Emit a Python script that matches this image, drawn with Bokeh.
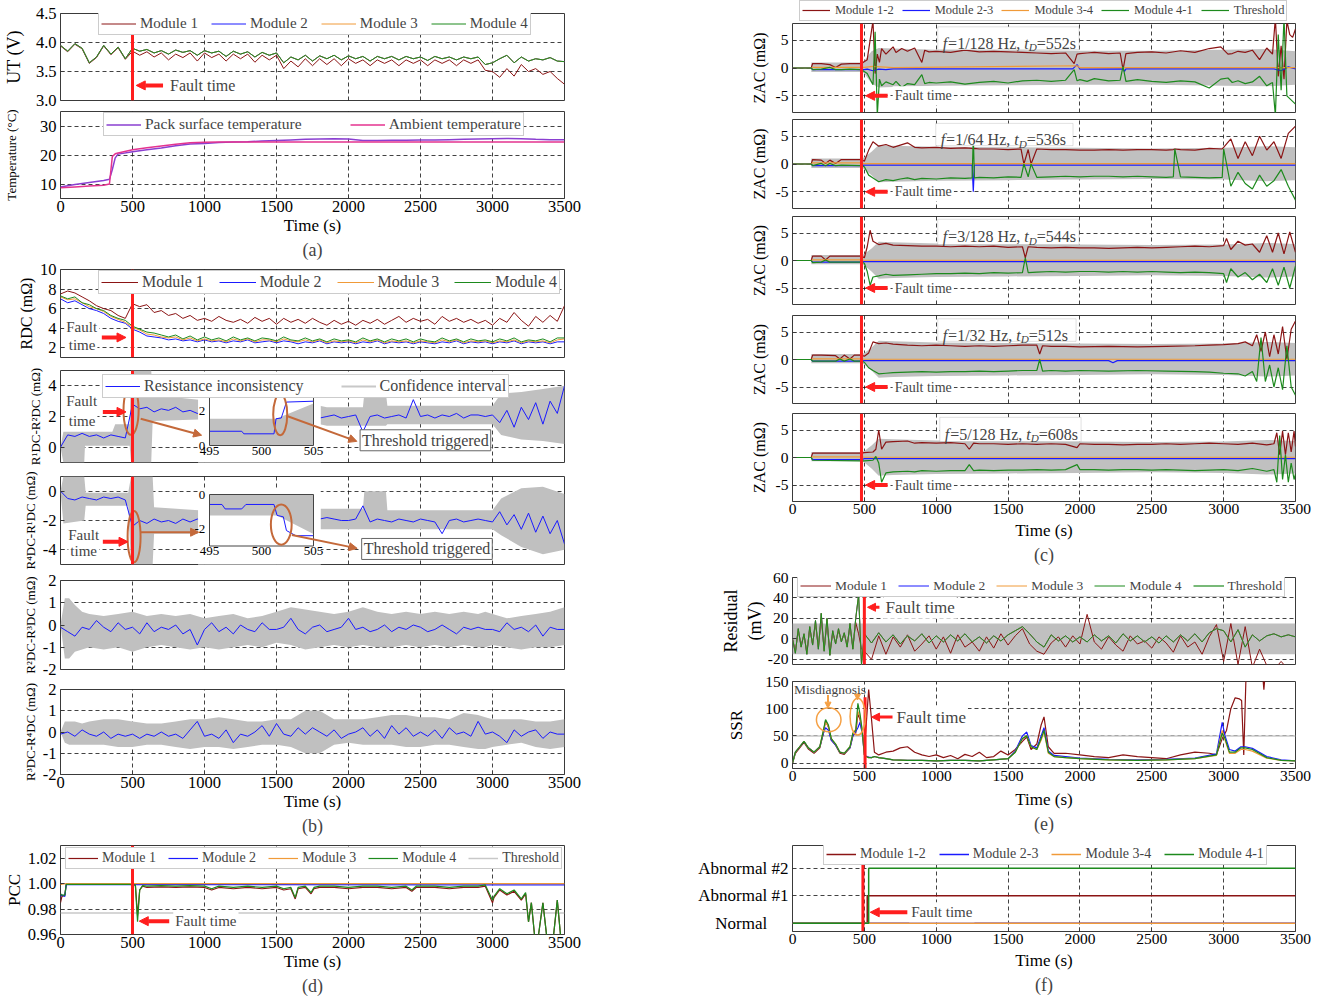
import math
import numpy as np
from bokeh.plotting import figure
from bokeh.layouts import column, row
from bokeh.models import (Range1d, FixedTicker, Legend, LegendItem, Span, Label, Arrow,
                          NormalHead, BoxAnnotation, Title, PrintfTickFormatter, LinearAxis)
from bokeh.embed import file_html
from bokeh.resources import INLINE
from bokeh.core.properties import value

FONT = "Liberation Serif"
C1, C2, C3, C4 = "#8b1414", "#1a1aff", "#f09a38", "#1d8a1d"
FAULT = "#ff1e1e"
GREY = "#c0c0c0"
BROWN = "#c4693a"
ORANGE = "#f5a044"
PURPLE = "#8a3fd1"
PINK = "#e4338f"

FAULT_T = 500
XTICKS = [0, 500, 1000, 1500, 2000, 2500, 3000, 3500]
XGRID = [500, 1000, 1500, 2000, 2500, 3000]
T50 = list(range(0, 3501, 50))
NO_DATA = np.array([np.nan])   # legend-key only renderers

# ---------------- (a) terminal voltage ----------------
ut_m1 = [3.94, 3.84, 3.97, 3.89, 3.64, 3.74, 3.94, 3.79, 3.91, 3.71,
         3.85, 3.78, 3.84, 3.75, 3.82, 3.70, 3.80, 3.74, 3.82, 3.68,
         3.82, 3.74, 3.80, 3.68, 3.80, 3.72, 3.80, 3.66, 3.78, 3.70,
         3.78, 3.55, 3.68, 3.58, 3.72, 3.60, 3.72, 3.62, 3.72, 3.60,
         3.72, 3.64, 3.70, 3.60, 3.70, 3.64, 3.70, 3.60, 3.70, 3.64,
         3.70, 3.60, 3.70, 3.64, 3.70, 3.60, 3.70, 3.64, 3.70, 3.52,
         3.50, 3.40, 3.55, 3.42, 3.62, 3.50, 3.55, 3.45, 3.50, 3.38,
         3.28]
ut_m4 = [3.95, 3.85, 3.98, 3.90, 3.65, 3.75, 3.95, 3.80, 3.92, 3.72,
         3.90, 3.85, 3.88, 3.82, 3.86, 3.80, 3.87, 3.83, 3.86, 3.78,
         3.86, 3.82, 3.85, 3.76, 3.85, 3.80, 3.84, 3.75, 3.83, 3.78,
         3.82, 3.65, 3.75, 3.70, 3.78, 3.68, 3.77, 3.72, 3.78, 3.70,
         3.77, 3.72, 3.76, 3.68, 3.76, 3.72, 3.76, 3.70, 3.76, 3.72,
         3.75, 3.69, 3.76, 3.72, 3.75, 3.70, 3.75, 3.72, 3.75, 3.62,
         3.65, 3.72, 3.78, 3.65, 3.75, 3.68, 3.72, 3.70, 3.74, 3.68,
         3.67]
ut_m2 = ut_m4   # modules 2-4 overlap in the picture
ut_m3 = ut_m4

temp_x = [0, 100, 200, 300, 340, 360, 380, 400, 500, 600, 700, 800, 900, 1000,
          1100, 1200, 1300, 1400, 1500, 1600, 1700, 1800, 1900, 2000, 2100, 2200,
          2300, 2400, 2500, 2600, 2700, 2800, 2900, 3000, 3100, 3200, 3300, 3400, 3500]
temp_pack = [9.0, 9.8, 10.5, 11.2, 11.6, 15.0, 19.0, 20.3, 21.1, 21.8, 22.4, 23.2, 23.8, 24.0,
             24.3, 24.5, 24.6, 24.8, 25.0, 25.2, 25.4, 25.5, 25.6, 25.5, 25.0, 25.0,
             25.1, 25.1, 25.2, 25.2, 25.3, 25.4, 25.5, 25.6, 25.7, 25.6, 25.4, 25.3, 25.3]
temp_amb = [8.7, 9.0, 9.3, 9.6, 10.0, 19.5, 20.4, 20.7, 21.8, 22.5, 23.1, 23.7, 24.2, 24.4,
            24.5, 24.5, 24.5, 24.5, 24.5, 24.5, 24.5, 24.5, 24.5, 24.5, 24.5, 24.5,
            24.5, 24.5, 24.5, 24.5, 24.5, 24.5, 24.5, 24.5, 24.5, 24.5, 24.5, 24.5, 24.5]

# ---------------- (b) DC resistance ----------------
rdc_m1 = [7.5, 7.8, 7.6, 7.2, 6.8, 6.3, 6.0, 5.8, 5.3, 5.0,
          6.5, 6.2, 6.4, 5.6, 5.8, 5.3, 5.5, 5.0, 5.3, 4.8,
          5.0, 4.7, 5.2, 4.8, 4.6, 4.9, 4.5, 5.1, 4.7, 5.0,
          4.4, 5.0, 4.6, 4.9, 4.5, 5.0, 4.6, 4.3, 4.8, 4.4,
          4.7, 4.3, 4.8, 4.5, 4.9, 4.4, 4.8, 5.2, 4.6, 5.0,
          4.7, 4.9, 4.4, 5.2, 4.7, 5.0, 4.6, 4.9, 4.5, 4.8,
          4.3, 5.0, 4.6, 5.6, 4.8, 4.2, 5.2, 4.6, 5.3, 4.7,
          6.3]
rdc_m2 = [7.0, 6.6, 6.8, 6.4, 6.0, 5.8, 5.5, 5.0, 4.7, 4.5,
          3.9, 3.6, 3.2, 3.1, 3.0, 2.8, 2.9, 2.7, 2.8, 2.6,
          2.8, 2.6, 2.7, 2.5, 2.7, 2.6, 2.8, 2.5, 2.6, 2.7,
          2.5, 2.7, 2.6, 2.4, 2.6, 2.5, 2.7, 2.4, 2.6, 2.5,
          2.6, 2.4, 2.6, 2.5, 2.7, 2.4, 2.6, 2.5, 2.6, 2.4,
          2.6, 2.5, 2.4, 2.6, 2.5, 2.7, 2.4, 2.6, 2.5, 2.6,
          2.4, 2.6, 2.5, 2.7, 2.4, 2.6, 2.5, 2.6, 2.4, 2.6,
          2.6]
rdc_m3 = [7.2, 6.9, 7.0, 6.6, 6.2, 6.0, 5.7, 5.2, 4.9, 4.6,
          4.1, 3.8, 3.4, 3.3, 3.1, 3.0, 3.1, 2.8, 3.0, 2.7,
          2.9, 2.7, 2.8, 2.6, 2.9, 2.7, 2.9, 2.6, 2.8, 2.8,
          2.6, 2.9, 2.7, 2.6, 2.8, 2.6, 2.8, 2.5, 2.7, 2.6,
          2.7, 2.5, 2.8, 2.6, 2.8, 2.5, 2.7, 2.6, 2.7, 2.5,
          2.7, 2.6, 2.5, 2.8, 2.6, 2.8, 2.5, 2.7, 2.6, 2.7,
          2.5, 2.7, 2.6, 2.8, 2.5, 2.7, 2.6, 2.7, 2.5, 2.8,
          2.9]
rdc_m4 = [7.3, 7.0, 7.2, 6.6, 6.4, 6.0, 5.8, 5.3, 5.0, 4.8,
          4.2, 3.9, 3.6, 3.5, 3.3, 3.1, 3.3, 2.9, 3.2, 2.8,
          3.1, 2.8, 3.0, 2.7, 3.1, 2.8, 3.0, 2.7, 3.0, 2.9,
          2.7, 3.1, 2.8, 2.7, 3.0, 2.7, 2.9, 2.6, 2.9, 2.7,
          2.8, 2.6, 3.0, 2.7, 2.9, 2.6, 2.9, 2.7, 2.9, 2.6,
          2.9, 2.7, 2.6, 3.0, 2.7, 2.9, 2.6, 2.9, 2.7, 2.8,
          2.6, 2.9, 2.7, 3.0, 2.6, 2.8, 2.7, 2.9, 2.6, 3.0,
          3.0]

r12 = [0.0, 0.8, 0.7, 0.9, 0.7, 0.8, 0.6, 0.8, 0.7, 0.6,
       2.8, 2.5, 2.6, 2.3, 2.5, 2.4, 2.6, 2.3, 2.4, 2.2,
       2.3, 2.4, 2.2, 2.3, 2.1, 2.2, 2.0, 2.1, 2.0, 2.1,
       2.0, 2.1, 2.0, 1.9, 2.0, 2.1, 1.9, 2.0, 2.1, 1.9,
       2.0, 2.1, 1.0, 2.0, 2.1, 1.9, 2.0, 2.1, 1.9, 3.1,
       2.0, 2.1, 1.9, 2.1, 2.0, 2.2, 1.9, 2.1, 2.1, 2.0,
       2.1, 1.6, 2.4, 1.3, 2.6, 1.8, 2.9, 1.5, 3.0, 2.2,
       4.0]
r12_bx = [0, 20, 165, 170, 360, 380, 480, 490, 630, 640, 960, 1000, 1800, 1850,
          2100, 2110, 2260, 2270, 3000, 3060, 3200, 3350, 3500]
r12_lo = [0, -1, -1, 0.1, 0.1, 0.1, 0.1, -1, -1, 1.7, 1.8, 1.8, 1.5, 1.4,
          1.4, 1.4, 1.4, 1.5, 1.5, 0.8, 0.5, 0.4, 0.2]
r12_hi = [0, 1.0, 1.0, 1.0, 1.0, 1.5, 1.5, 5, 5, 3.4, 3.1, 3.0, 2.7, 2.6,
          2.6, 3.5, 3.5, 2.7, 2.7, 3.5, 3.6, 3.8, 4.0]
r12_zoom_x = [495, 498.1, 498.3, 501.2, 501.4, 501.9, 502.4, 505]
r12_zoom_y = [0.83, 0.83, 0.68, 0.68, 1.56, 1.6, 2.53, 2.58]
r12_zoom_bx = [495, 501.4, 505]
r12_zoom_hi = [1.56, 1.56, 2.45]

r41 = [0.0, -0.5, -0.6, -0.4, -0.5, -0.6, -0.4, -0.5, -0.4, -0.6,
       -2.4, -2.0, -2.2, -1.9, -2.1, -2.0, -2.2, -1.9, -2.1, -1.9,
       -2.0, -2.1, -1.9, -2.0, -2.0, -2.1, -1.9, -2.0, -2.0, -1.9,
       -2.0, -1.9, -2.0, -2.1, -1.8, -2.0, -1.9, -1.8, -1.9, -2.0,
       -2.0, -1.9, -1.0, -2.1, -1.9, -2.0, -2.1, -1.9, -2.0, -2.1,
       -1.9, -2.0, -2.1, -2.9, -2.0, -1.9, -2.1, -2.0, -1.9, -2.0,
       -2.1, -1.4, -2.3, -1.6, -2.6, -1.5, -2.8, -1.7, -2.9, -2.0,
       -3.6]
r41_bx = [0, 20, 165, 175, 470, 490, 640, 650, 960, 1000, 1800, 2100, 2110, 2260,
          2270, 3000, 3060, 3200, 3350, 3500]
r41_lo = [0, -2.2, -2.0, -1.0, -1.0, -5, -5, -2.9, -2.9, -2.8, -2.6, -2.6, -2.6, -2.6,
          -2.6, -2.6, -3.0, -3.8, -4.3, -4.0]
r41_hi = [0, 1.0, 1.0, -0.1, -0.1, 1.0, 1.0, -1.1, -1.3, -1.3, -1.2, -1.2, 0.0, 0.0,
          -1.3, -1.3, -0.5, 0.2, 0.3, -0.2]
r41_zoom_x = [495, 496.2, 496.5, 498.1, 498.5, 501.2, 501.5, 502.1, 502.4, 503.3, 505]
r41_zoom_y = [-0.58, -0.58, -0.84, -0.84, -0.58, -0.58, -1.22, -1.3, -2.1, -2.4, -2.4]
r41_zoom_bx = [495, 501.5, 505]
r41_zoom_lo = [-1.22, -1.22, -2.3]

r23 = [-0.1, -0.3, -0.5, -0.1, -0.2, 0.2, -0.1, -0.3, 0.1, -0.2,
       -0.1, -0.4, 0.1, -0.3, -0.1, -0.2, 0.0, -0.4, -0.2, -0.9,
       -0.2, 0.1, -0.3, -0.1, -0.4, 0.0, -0.2, -0.3, 0.1, -0.2,
       -0.2, -0.1, 0.3, -0.2, -0.4, -0.1, 0.0, -0.3, -0.2, -0.1,
       0.3, -0.2, -0.1, -0.3, -0.2, 0.0, -0.3, -0.1, -0.2, 0.0,
       -0.1, -0.3, -0.2, 0.0, -0.2, -0.4, -0.1, -0.2, -0.1, -0.2,
       -0.2, -0.3, 0.1, -0.2, -0.1, -0.3, 0.0, -0.5, -0.1, -0.2,
       -0.2]
r34 = [-0.1, 0.0, -0.2, 0.1, -0.1, -0.2, 0.0, -0.3, -0.1, -0.2,
       -0.1, -0.3, -0.1, -0.2, 0.0, -0.2, -0.1, -0.3, 0.1, 0.5,
       -0.2, -0.1, -0.3, 0.1, -0.5, -0.1, -0.2, 0.0, 0.3, -0.2,
       0.4, -0.1, -0.2, 0.2, -0.1, 0.2, 0.0, -0.2, 0.1, -0.3,
       -0.1, 0.0, 0.2, -0.2, 0.1, -0.3, 0.3, -0.1, 0.2, -0.2,
       0.0, -0.2, 0.1, -0.3, 0.2, -0.1, 0.0, -0.2, 0.5, -0.1,
       0.0, -0.2, -0.5, 0.1, -0.2, 0.0, 0.1, -0.3, 0.0, -0.1,
       -0.1]
band_bx = [0, 30, 60, 100, 150, 200, 300, 400, 500, 600, 700, 800, 900, 1000, 1100, 1200,
           1300, 1400, 1500, 1600, 1700, 1800, 1900, 2000, 2100, 2200, 2300, 2400, 2500,
           2600, 2700, 2800, 2900, 2950, 3000, 3100, 3200, 3300, 3400, 3500]
r23_hi = [0, 1.2, 1.2, 0.9, 0.6, 0.5, 0.4, 0.5, 0.6, 0.4,
          0.5, 0.4, 0.5, 0.3, 0.4, 0.5, 0.3, 0.4, 0.6, 0.8,
          0.7, 0.6, 0.5, 0.6, 0.8, 0.6, 0.5, 0.6, 0.5, 0.6,
          0.5, 0.6, 0.5, 0.6, 0.5, 0.3, 0.4, 0.5, 0.6, 0.8]
r23_lo = [0, -1.5, -1.5, -1.2, -1.1, -1.0, -1.1, -1.0, -1.2, -1.0,
          -0.9, -1.0, -1.1, -1.0, -1.1, -1.0, -0.9, -1.0, -0.8, -0.9,
          -1.1, -1.0, -0.9, -1.0, -0.9, -1.0, -1.0, -0.9, -1.0, -0.9,
          -1.0, -0.9, -1.0, -1.0, -0.9, -1.0, -1.1, -1.0, -1.0, -0.9]
r34_hi = [0, 0.5, 0.5, 0.5, 0.4, 0.5, 0.6, 0.6, 0.5, 0.4,
          0.4, 0.5, 0.6, 0.6, 0.7, 0.6, 0.5, 0.5, 0.6, 0.6,
          1.0, 1.0, 0.6, 0.6, 0.6, 0.7, 0.8, 0.8, 0.7, 0.7,
          0.6, 0.9, 0.8, 0.7, 0.6, 0.6, 0.6, 0.5, 0.5, 0.6]
r34_lo = [0, -0.5, -0.6, -0.6, -0.6, -0.6, -0.6, -0.7, -0.7, -0.6,
          -0.6, -0.7, -0.8, -0.7, -0.7, -0.8, -0.7, -0.6, -0.6, -0.7,
          -1.0, -1.0, -0.6, -0.5, -0.6, -0.6, -0.6, -0.7, -0.7, -0.6,
          -0.6, -0.7, -0.8, -0.8, -0.7, -0.6, -0.5, -0.7, -0.8, -0.7]

# ---------------- (d) PCC ----------------
pcc_x = [0, 10, 30, 40, 100, 200, 300, 400, 480, 500,
         520, 535, 550, 570, 600, 700, 800, 900, 1000, 1050,
         1100, 1200, 1300, 1400, 1500, 1550, 1600, 1630, 1650, 1700,
         1740, 1760, 1800, 1900, 2000, 2100, 2200, 2300, 2400, 2440,
         2470, 2500, 2600, 2700, 2800, 2900, 2950, 3000, 3010, 3050,
         3100, 3150, 3200, 3230, 3250, 3270, 3300, 3320, 3350, 3380,
         3400, 3420, 3450, 3480, 3500]
pcc_m1 = [0.985, 0.990, 0.991, 0.9995, 0.9995, 0.9995, 0.9995, 0.9995, 0.9995, 0.999,
          0.999, 0.975, 0.995, 0.998, 0.997, 0.9975, 0.997, 0.9975, 0.997, 0.995,
          0.997, 0.996, 0.997, 0.996, 0.997, 0.995, 0.996, 0.988, 0.996, 0.997,
          0.992, 0.996, 0.997, 0.997, 0.996, 0.997, 0.997, 0.996, 0.997, 0.994,
          0.997, 0.997, 0.997, 0.996, 0.997, 0.997, 0.998, 0.985, 0.989, 0.995,
          0.991, 0.994, 0.987, 0.992, 0.970, 0.985, 0.950, 0.960, 0.985, 0.955,
          0.940, 0.955, 0.987, 0.950, 0.930]
pcc_m4 = [0.992, 0.991, 0.991, 0.9995, 0.9995, 0.9995, 0.9995, 0.9995, 0.9995, 0.999,
          0.999, 0.970, 0.995, 0.9985, 0.998, 0.9985, 0.998, 0.9985, 0.998, 0.996,
          0.998, 0.997, 0.998, 0.997, 0.998, 0.996, 0.997, 0.989, 0.997, 0.998,
          0.993, 0.997, 0.998, 0.998, 0.997, 0.998, 0.998, 0.997, 0.998, 0.995,
          0.998, 0.998, 0.998, 0.997, 0.998, 0.998, 0.999, 0.987, 0.990, 0.996,
          0.992, 0.995, 0.988, 0.993, 0.970, 0.985, 0.950, 0.960, 0.985, 0.955,
          0.940, 0.955, 0.987, 0.950, 0.930]
pcc_m2_x = [0, 10, 30, 40, 3000, 3500]
pcc_m2 = [0.990, 0.991, 0.990, 0.9995, 0.999, 0.999]
pcc_m3_x = [0, 10, 40, 3500]
pcc_m3 = [0.9995, 0.9995, 1.0, 1.0]
pcc_thr_x = [0, 3500]
pcc_thr = [0.977, 0.977]

# ---------------- (c) AC impedance ----------------
zc_f = ["1/128", "1/64", "3/128", "1/32", "5/128"]
zc_td = ["552s", "536s", "544s", "512s", "608s"]
zb_x = [0, 130, 131, 480, 500, 550, 600, 700, 1000, 1500, 2000, 2500, 3000, 3300, 3500]
zc1_hi = [0, 0, 1.0, 1.0, 1.3, 3.0, 3.6, 3.5, 3.3, 3.2, 3.1, 3.1, 3.3, 3.4, 3.0]
zc1_lo = [0, 0, -0.7, -0.7, -1.0, -2.8, -3.5, -3.4, -3.2, -3.1, -3.0, -3.0, -3.2, -3.3, -3.0]
zc_hi = [0, 0, 1.0, 1.0, 1.2, 2.2, 3.4, 3.3, 3.1, 3.0, 2.9, 2.8, 2.9, 3.2, 3.0]
zc_lo = [0, 0, -0.7, -0.7, -0.9, -2.0, -3.3, -3.2, -3.0, -2.9, -2.8, -2.7, -2.8, -3.1, -2.9]

zc1_x = [0, 130, 140, 200, 260, 300, 340, 400, 480, 520,
         560, 575, 590, 605, 620, 650, 700, 720, 760, 800,
         850, 900, 920, 950, 1000, 1100, 1200, 1300, 1400, 1500,
         1600, 1700, 1800, 1900, 1960, 1980, 2000, 2050, 2100, 2200,
         2280, 2300, 2320, 2400, 2500, 2600, 2700, 2800, 2900, 2980,
         3030, 3060, 3100, 3150, 3200, 3250, 3300, 3340, 3360, 3380,
         3400, 3420, 3440, 3460, 3480, 3500]
zc1_red = [0, 0, 0.8, 0.8, 0.6, 0.1, 0.7, 0.8, 0.8, 1.5,
           8.5, -1.0, 2.5, 1.0, 3.5, 2.5, 3.8, 2.8, 3.5, 3.0,
           3.6, 1.0, 3.2, 2.9, 3.0, 2.8, 3.2, 2.9, 3.0, 2.9,
           2.8, 2.7, 2.6, 2.7, 0.8, 2.5, 2.6, 2.7, 2.8, 2.6,
           2.7, -0.3, 2.6, 2.8, 2.9, 2.7, 3.1, 2.8, 3.5, 3.8,
           2.5, 2.6, 3.0, 2.8, 3.2, 1.5, 3.6, 2.5, 9.0, -1.5,
           4.0, -2.0, 8.5, 6.0, 5.5, 7.0]
zc1_green = [0, 0, -0.3, -0.2, 0.1, -0.3, -0.3, -0.2, -0.3, -1.0,
             -3.0, 6.5, -8.5, -2.0, -3.2, -2.5, -3.0, -2.4, -3.5, -2.8,
             -3.0, -1.2, -2.8, -2.6, -2.7, -2.5, -2.9, -2.6, -2.4, -2.7,
             -2.3, -2.2, -2.4, -2.2, -0.3, -2.3, -2.1, -2.4, -1.9, -2.3,
             -2.2, 0.3, -2.4, -2.1, -2.4, -2.6, -2.3, -2.5, -3.6, -2.0,
             -1.8, -2.6, -2.3, -2.8, -2.5, -1.5, -3.2, -2.6, -8.5, 6.0,
             -4.0, 9.0, -5.0, -5.5, -6.0, -6.5]
zc1_blue_x = [0, 130, 140, 480, 500, 520, 560, 600, 650, 700, 1950, 1980, 2000, 2300, 2310, 2320,
              3350, 3400, 3450, 3500]
zc1_blue = [0, 0, -0.3, -0.3, -0.3, -0.2, -0.5, -0.2, -0.3, -0.15, -0.15, 0.6, -0.2, -0.15, -0.6,
            -0.15, -0.15, -0.5, 0.2, -0.15]
zc1_orange_x = [0, 130, 140, 480, 500, 560, 700, 1980, 2000, 3400, 3500]
zc1_orange = [0, 0, 0.1, 0.1, 0.1, 0.3, 0.05, 0.4, 0.05, 0.05, 0.05]

zc2_x = [0, 130, 140, 200, 230, 260, 300, 340, 480, 500,
         530, 560, 600, 650, 700, 750, 800, 850, 900, 1000,
         1100, 1200, 1250, 1258, 1266, 1300, 1400, 1500, 1590, 1610,
         1640, 1660, 1700, 1800, 1900, 2000, 2100, 2200, 2300, 2400,
         2500, 2600, 2650, 2660, 2700, 2800, 2900, 2990, 3000, 3050,
         3100, 3150, 3200, 3250, 3300, 3350, 3400, 3450, 3500]
zc2_red = [0, 0, 0.8, 0.7, 0.1, 0.7, 0.1, 0.8, 0.8, 0.5,
           2.5, 4.0, 3.2, 3.5, 3.0, 3.4, 3.8, 3.0, 2.9, 3.0,
           2.8, 2.9, 2.8, 2.7, 2.8, 2.7, 2.7, 2.6, 2.7, 0.0,
           2.6, 0.0, 2.7, 2.6, 2.6, 2.5, 2.5, 2.6, 2.5, 2.6,
           2.6, 2.5, 2.6, 2.7, 2.6, 2.5, 2.8, 2.7, 3.0, 4.5,
           1.0, 4.0, 1.5, 5.0, 2.5, 4.0, 1.0, 5.5, 6.8]
zc2_green = [0, 0, -0.3, 0.1, -0.3, 0.1, -0.3, -0.2, -0.3, -0.5,
             -2.0, -2.5, -3.2, -2.8, -3.0, -2.7, -2.5, -2.8, -2.6, -2.7,
             -2.5, -2.6, -2.5, 5.0, -2.5, -2.4, -2.5, -2.3, -2.4, 0.0,
             -2.3, 0.0, -2.4, -2.3, -2.2, -2.3, -2.2, -2.2, -2.3, -2.2,
             -2.3, -2.4, -2.3, 2.7, -2.3, -2.4, -2.5, -2.4, 2.7, -4.0,
             -1.5, -3.5, -4.5, -2.0, -4.0, -3.0, -1.0, -4.0, -6.5]
zc2_blue_x = [0, 130, 140, 480, 500, 1250, 1258, 1266, 3500]
zc2_blue = [0, 0, -0.3, -0.3, -0.2, -0.2, -5.0, -0.2, -0.2]
zc2_orange_x = [0, 130, 140, 480, 500, 3500]
zc2_orange = [0, 0, 0.2, 0.2, 0.05, 0.05]

zc3_x = [0, 130, 140, 200, 230, 260, 480, 500, 520, 540,
         560, 600, 650, 700, 800, 900, 1000, 1100, 1200, 1300,
         1400, 1500, 1600, 1620, 1640, 1700, 1800, 1900, 2000, 2100,
         2200, 2300, 2400, 2500, 2600, 2700, 2800, 2900, 3000, 3020,
         3050, 3100, 3150, 3200, 3250, 3300, 3340, 3380, 3420, 3460,
         3500]
zc3_red = [0, 0, 0.8, 0.8, 0.1, 0.8, 0.8, 0.5, 2.5, 5.5,
           3.5, 2.9, 3.1, 2.8, 2.7, 2.6, 2.6, 2.5, 2.6, 2.5,
           2.6, 2.4, 2.5, 0.5, 2.5, 2.4, 2.3, 2.4, 2.3, 2.3,
           2.2, 2.3, 2.4, 2.3, 2.4, 2.5, 2.6, 2.5, 2.7, 4.0,
           2.0, 3.5, 2.8, 3.0, 1.5, 4.5, 1.5, 5.0, 1.2, 5.2,
           1.5]
zc3_green = [0, 0, -0.4, -0.3, 0.1, -0.3, -0.3, -0.5, -2.0, -4.5,
             -3.0, -2.8, -2.5, -2.7, -2.6, -2.5, -2.4, -2.4, -2.3, -2.4,
             -2.2, -2.3, -2.2, 0.5, -2.2, -2.1, -2.0, -2.1, -2.0, -2.0,
             -2.1, -2.0, -2.1, -2.0, -2.1, -2.2, -2.1, -2.2, -2.4, -4.0,
             -1.5, -3.0, -2.2, -3.5, -2.5, -4.0, -1.5, -4.5, -1.2, -5.0,
             -1.0]
zc3_blue_x = [0, 130, 140, 480, 500, 3500]
zc3_blue = [0, 0, -0.3, -0.3, -0.2, -0.2]
zc3_orange_x = [0, 130, 140, 480, 500, 3500]
zc3_orange = [0, 0, 0.1, 0.1, 0.05, 0.05]

zc4_x = [0, 130, 140, 200, 300, 330, 360, 400, 430, 480,
         500, 530, 560, 600, 650, 700, 800, 900, 1000, 1100,
         1200, 1300, 1400, 1500, 1600, 1700, 1720, 1740, 1800, 1900,
         2000, 2200, 2400, 2600, 2800, 2900, 3000, 3100, 3150, 3200,
         3230, 3260, 3290, 3320, 3350, 3380, 3410, 3440, 3470, 3500]
zc4_red = [0, 0, 0.8, 0.8, 0.7, 0.1, 0.8, 0.1, 0.8, 0.8,
           0.6, 1.2, 3.2, 2.9, 3.0, 2.8, 2.6, 2.5, 2.6, 2.5,
           2.4, 2.5, 2.4, 2.5, 2.6, 2.6, 1.0, 2.5, 2.4, 2.4,
           2.3, 2.4, 2.3, 2.4, 2.5, 2.6, 2.7, 2.9, 3.2, 2.5,
           4.5, 1.5, 5.0, 0.5, 4.5, 1.0, 6.0, 0.0, 5.5, 7.0]
zc4_green = [0, 0, -0.3, -0.3, -0.3, 0.1, -0.3, 0.1, -0.3, -0.3,
             -0.5, -1.5, -2.0, -2.6, -2.5, -2.4, -2.3, -2.2, -2.3, -2.2,
             -2.2, -2.1, -2.2, -2.1, -2.0, -2.0, 0.0, -2.1, -2.0, -2.1,
             -2.0, -2.1, -2.0, -2.1, -2.2, -2.3, -2.5, -2.6, -3.0, -2.2,
             -4.0, 4.0, -4.0, -1.0, -5.0, -1.5, -5.5, 2.5, -5.0, -6.5]
zc4_blue_x = [0, 130, 140, 480, 500, 2200, 2230, 2260, 3500]
zc4_blue = [0, 0, -0.3, -0.3, -0.2, -0.2, -0.6, -0.2, -0.2]
zc4_orange_x = [0, 130, 140, 480, 500, 3500]
zc4_orange = [0, 0, 0.1, 0.1, 0.05, 0.05]

zc5_x = [0, 130, 140, 480, 500, 560, 580, 600, 620, 650,
         700, 800, 850, 900, 1000, 1100, 1200, 1230, 1260, 1300,
         1400, 1500, 1600, 1700, 1800, 1900, 1980, 2000, 2100, 2200,
         2300, 2400, 2500, 2600, 2700, 2800, 2900, 3000, 3100, 3200,
         3300, 3350, 3370, 3390, 3410, 3430, 3450, 3470, 3490, 3500]
zc5_red = [0, 0, 0.8, 0.8, 0.9, 1.0, 1.5, 5.0, 1.5, 2.8,
           2.9, 3.0, 2.6, 2.7, 2.6, 2.7, 2.5, 1.5, 2.6, 2.5,
           2.5, 2.4, 2.5, 2.4, 2.5, 2.4, 1.8, 2.5, 2.4, 2.4,
           2.3, 2.4, 2.4, 2.5, 2.4, 2.5, 2.6, 2.5, 2.4, 2.6,
           2.3, 2.5, 4.5, 0.5, 4.8, 0.5, 4.5, 1.0, 4.8, 2.0]
zc5_green = [0, 0, -0.5, -0.6, -0.6, -0.5, 0.2, -1.0, -4.5, -2.8,
             -2.6, -2.5, -2.6, -2.4, -2.5, -2.4, -2.4, -1.3, -2.4, -2.3,
             -2.4, -2.3, -2.3, -2.2, -2.3, -2.2, -1.3, -2.2, -2.2, -2.3,
             -2.2, -2.2, -2.3, -2.2, -2.3, -2.4, -2.3, -2.2, -2.4, -2.0,
             -2.5, -2.2, -4.5, 4.0, -4.0, 0.5, -4.5, -1.0, -4.0, -3.0]
zc5_blue_x = [0, 130, 140, 480, 500, 3500]
zc5_blue = [0, 0, -0.4, -0.4, -0.2, -0.2]
zc5_orange_x = [0, 130, 140, 480, 500, 3500]
zc5_orange = [0, 0, 0.1, 0.1, 0.05, 0.05]

# ---------------- (e) residual and SSR ----------------
res_x = list(range(0, 481, 20)) + list(range(500, 3501, 50))
res_m1 = [0, -12, 8, -6, 4, -13, 10, -5, 15, -8, 20, -10, 16, -13, 6, -4, 8, -2, 5, -6, 12, -8, 16, 5, -10,
          -12, -20, 3, -15, 2, -8, 4, -12, -5, 3,
          -10, 2, -14, 4, -8, -3, -12, 2, -9, 5,
          -6, 3, 10, -5, -12, -15, -4, 2, -8, 3,
          -5, 24, -3, -10, 2, -6, -12, 3, -5, -2,
          -9, 2, -4, -13, 3, -8, -3, -15, 2, 14,
          -22, 15, -25, 12, -28, -10, -26, -30, -22, -30,
          -30]
res_m4 = [0, -14, 10, -8, 5, -15, 12, -6, 18, -10, 25, -12, 20, -16, 8, -5, 10, -3, 6, -8, 15, -10, 20, 43, -25,
          5, -4, 6, -3, 4, -5, 3, -2, 5, -4,
          3, -3, 4, -2, 5, -3, 2, -4, 3, -2,
          4, 8, 12, 5, -3, -8, 4, -2, 3, -3,
          2, -3, 4, -2, 3, -4, 5, -2, 3, -3,
          2, -4, 3, -3, 4, -2, 5, -3, 6, 10,
          8, -3, 9, -8, 4, -2, 3, 5, 2, 4,
          2]
res_m2 = res_m4   # modules 2-4 overlap in the picture
res_m3 = res_m4
res_band_x = [0, 3500]
res_band_lo = [-15, -15]
res_band_hi = [15, 15]

ssr_x = [0, 20, 50, 80, 110, 150, 190, 215, 230, 250,
         270, 300, 330, 360, 400, 420, 440, 455, 470, 485,
         500, 510, 530, 550, 570, 600, 650, 700, 800, 900,
         1000, 1100, 1200, 1300, 1400, 1500, 1550, 1600, 1630, 1660,
         1700, 1730, 1750, 1780, 1820, 1900, 2000, 2200, 2400, 2600,
         2800, 2950, 2990, 3010, 3040, 3080, 3120, 3150, 3200, 3300,
         3400, 3500]
ssr_m2 = [0, 20, 30, 40, 28, 20, 30, 55, 65, 60,
          42, 33, 20, 18, 28, 50, 58, 65, 75, 55,
          16, 13, 11, 10, 12, 10, 8, 6, 5, 5,
          4, 5, 5, 4, 6, 8, 22, 50, 57, 32,
          28, 50, 65, 22, 14, 12, 9, 7, 6, 7,
          9, 17, 75, 50, 25, 22, 30, 30, 27, 12,
          6, 4]
ssr_m3 = [0, 20, 30, 40, 28, 20, 30, 60, 75, 68,
          45, 35, 20, 18, 30, 55, 62, 95, 85, 60,
          15, 12, 10, 10, 12, 10, 8, 6, 5, 5,
          4, 5, 5, 4, 6, 8, 20, 45, 50, 30,
          25, 42, 58, 18, 12, 10, 8, 6, 5, 6,
          8, 14, 60, 42, 18, 18, 25, 25, 22, 9,
          5, 4]
ssr_m4 = [0, 20, 30, 40, 28, 20, 30, 60, 80, 70,
          45, 35, 20, 18, 30, 55, 60, 110, 90, 60,
          15, 12, 10, 10, 12, 10, 8, 6, 5, 5,
          4, 5, 5, 4, 6, 8, 20, 45, 50, 30,
          25, 45, 60, 20, 12, 10, 8, 6, 5, 6,
          8, 15, 55, 45, 20, 20, 28, 28, 25, 10,
          5, 4]
ssr_m1_x = [0, 20, 50, 80, 110, 150, 190, 215, 230, 250,
            270, 300, 330, 360, 400, 420, 440, 455, 470, 485,
            500, 510, 530, 550, 570, 600, 650, 700, 750, 800,
            850, 900, 950, 1000, 1050, 1100, 1150, 1200, 1250, 1300,
            1350, 1400, 1450, 1500, 1550, 1600, 1630, 1660, 1700, 1730,
            1750, 1780, 1820, 1900, 2000, 2100, 2200, 2300, 2400, 2500,
            2600, 2700, 2800, 2900, 2950, 2990, 3020, 3050, 3080, 3110,
            3125, 3140, 3160, 3200, 3260, 3280, 3300, 3320]
ssr_m1 = [0, 18, 28, 38, 26, 18, 28, 55, 78, 66,
          42, 33, 18, 16, 28, 50, 55, 90, 80, 55,
          30, 60, 135, 80, 20, 15, 20, 22, 28, 30,
          20, 15, 12, 15, 10, 14, 8, 16, 12, 20,
          10, 12, 22, 15, 25, 40, 48, 25, 35, 70,
          85, 30, 18, 18, 15, 12, 10, 15, 12, 10,
          8, 15, 20, 18, 15, 45, 60, 100, 120, 118,
          115, 15, 200, 200, 200, 135, 200, 200]
ssr_thr_x = [0, 3500]
ssr_thr = [50, 50]

# ---------------- (f) states ----------------
st_labels = ["Normal", "Abnormal #1", "Abnormal #2"]
st_12_x = [0, 520, 520, 3500]
st_12 = [0, 0, 1, 1]
st_23_x = [0, 3500]
st_23 = [0, 0]
st_34_x = [0, 3500]
st_34 = [0, 0]
st_41_x = [0, 530, 530, 3500]
st_41 = [0, 0, 2, 2]

# ======================================================================
CW = {' ': 250, '(': 333, ')': 333, '-': 333, '=': 564, '/': 278, ',': 250, '.': 250,
      '#': 500, '°': 400, 'Ω': 768,
      'A': 722, 'B': 667, 'C': 667, 'D': 722, 'E': 611, 'F': 556, 'G': 722, 'H': 722,
      'I': 333, 'J': 389, 'K': 722, 'L': 611, 'M': 889, 'N': 722, 'O': 722, 'P': 556,
      'Q': 722, 'R': 667, 'S': 556, 'T': 611, 'U': 722, 'V': 722, 'W': 944, 'X': 722,
      'Y': 722, 'Z': 611, 'a': 444, 'b': 500, 'c': 444, 'd': 500, 'e': 444, 'f': 333,
      'g': 500, 'h': 500, 'i': 278, 'j': 278, 'k': 500, 'l': 278, 'm': 778, 'n': 500,
      'o': 500, 'p': 500, 'q': 500, 'r': 333, 's': 389, 't': 278, 'u': 500, 'v': 500,
      'w': 722, 'x': 500, 'y': 500, 'z': 444}


def tw(s, fs):
    return sum(CW.get(ch, 500) for ch in s) * fs / 1000.0


def rich(p, x, y, segs, fs, align="left", dx=0.0, dy=0.0):
    """Horizontal text with italic / subscript pieces, inside the frame."""
    a = 0.0
    pieces = []
    for text, it, pos, adv in segs:
        f = fs if pos == 0 else fs * 0.7
        shift = 0.0 if pos == 0 else (0.25 * fs if pos < 0 else -0.4 * fs)
        pieces.append((text, it, f, a, shift))
        if adv:
            a += tw(text, f)
    start = -a / 2 if align == "center" else 0.0
    for text, it, f, a0, shift in pieces:
        p.add_layout(Label(x=x, y=y, x_offset=dx + start + a0, y_offset=dy - shift, text=text,
                           text_font=FONT, text_font_size="%.1fpx" % f,
                           text_font_style="italic" if it else "normal",
                           text_align="left", text_baseline="alphabetic"))


def mk(w, h, borders, xr, yr):
    l, r, t, b = borders
    p = figure(width=w, height=h, x_range=Range1d(*xr), y_range=Range1d(*yr),
               output_backend="svg", toolbar_location=None,
               min_border_left=l, min_border_right=r, min_border_top=t, min_border_bottom=b)
    p.outline_line_color = "#3a3a3a"
    p.outline_line_width = 1
    p.background_fill_color = "white"
    p.border_fill_color = "white"
    return p


def style(p, yticks, ygrid, show_x, fs=16.5, yfmt="%d"):
    for ax in (p.xaxis[0], p.yaxis[0]):
        ax.axis_line_color = None
        ax.major_tick_in = 4
        ax.major_tick_out = 0
        ax.minor_tick_line_color = None
        ax.major_tick_line_color = "#3a3a3a"
        ax.major_label_text_font = FONT
        ax.major_label_text_font_size = "%.1fpx" % fs
        ax.major_label_text_color = "black"
    p.xaxis[0].major_label_standoff = 2
    p.yaxis[0].major_label_standoff = 4
    p.xaxis[0].ticker = FixedTicker(ticks=XTICKS)
    p.yaxis[0].ticker = FixedTicker(ticks=yticks)
    p.xaxis[0].formatter = PrintfTickFormatter(format="%d")
    p.yaxis[0].formatter = PrintfTickFormatter(format=yfmt)
    p.xgrid[0].ticker = FixedTicker(ticks=XGRID)
    p.ygrid[0].ticker = FixedTicker(ticks=ygrid)
    for g in (p.xgrid[0], p.ygrid[0]):
        g.grid_line_color = "#111111"
        g.grid_line_dash = "4 3"
        g.grid_line_width = 0.8
    if not show_x:
        p.xaxis[0].visible = False


def ylabel(ax, text, fs=17, standoff=4):
    ax.axis_label = text
    ax.axis_label_text_font = FONT
    ax.axis_label_text_font_size = "%.1fpx" % fs
    ax.axis_label_text_font_style = "normal"
    ax.axis_label_text_color = "black"
    ax.axis_label_standoff = standoff


def xlabel(p, caption, standoff=1, cap_standoff=1):
    ax = p.xaxis[0]
    ax.axis_label = "Time (s)"
    ax.axis_label_text_font = FONT
    ax.axis_label_text_font_size = "17px"
    ax.axis_label_text_font_style = "normal"
    ax.axis_label_text_color = "black"
    ax.axis_label_standoff = standoff
    p.add_layout(Title(text=caption, align="center", text_font=FONT, text_font_size="18px",
                       text_font_style="normal", standoff=cap_standoff), "below")


def make_legend(items, left, top, frame, fs, gw, spacing, standoff=4, padding=2):
    """left/top: legend box corner in page px; frame: (frame_left, frame_bottom) in page px."""
    h = 2 * padding + max(int(fs), 1.107 * fs)
    return Legend(items=[LegendItem(label=l, renderers=[r]) for l, r in items],
                  location=(left - frame[0], frame[1] - top - h), orientation="horizontal",
                  label_text_font=FONT, label_text_font_size="%.1fpx" % fs,
                  glyph_width=gw, glyph_height=int(fs), label_height=int(fs),
                  label_standoff=standoff, spacing=spacing, padding=padding, margin=0,
                  border_line_color="#9a9a9a", border_line_width=1,
                  background_fill_color="white", background_fill_alpha=1.0)


def legend(p, *args, **kw):
    p.add_layout(make_legend(*args, **kw))


def arrow(p, x0, y0, x1, y1, color=FAULT, w=4, size=9):
    p.add_layout(Arrow(end=NormalHead(size=size, fill_color=color, line_color=color, line_width=1),
                       x_start=x0, y_start=y0, x_end=x1, y_end=y1, line_color=color, line_width=w))


def text(p, x, y, s, fs=15, align="left", bg=False, border=False):
    kw = {}
    if bg:
        kw["background_fill_color"] = "white"
        kw["background_fill_alpha"] = 1.0
        kw["padding"] = 2
    if border:
        kw["border_line_color"] = "#666666"
        kw["border_line_width"] = 1
    p.add_layout(Label(x=x, y=y, text=s, text_font=FONT, text_font_size="%.1fpx" % fs,
                       text_align=align, text_baseline="middle", **kw))


def fault_span(p, loc=FAULT_T):
    p.add_layout(Span(location=loc, dimension="height", line_color=FAULT, line_width=3))


def inset_ranges(p, name, frame, box, xr, yr):
    fl, fr, ft, fb = frame
    il, ir, it, ib = box
    sx = (xr[1] - xr[0]) / (ir - il)
    sy = (yr[1] - yr[0]) / (ib - it)
    p.extra_x_ranges = {name: Range1d(xr[0] - (il - fl) * sx, xr[1] + (fr - ir) * sx)}
    p.extra_y_ranges = {name: Range1d(yr[0] - (fb - ib) * sy, yr[1] + (it - ft) * sy)}


LW, RW = 680, 649
LB = (60, 116)     # left column frame borders: frame x 60..564
RB = (112, 34)     # right column frame borders: frame x 792..1295

# ---------------- left column ----------------
# (a) U_T
pa1 = mk(LW, 110, (LB[0], LB[1], 13, 10), (0, 3500), (3.0, 4.5))
style(pa1, [3.0, 3.5, 4.0, 4.5], [3.5, 4.0], False, yfmt="%.1f")
ylabel(pa1.yaxis[0], "UT (V)", 18, 9)
r1 = pa1.line(T50, ut_m1, color=C1, line_width=1)
r2 = pa1.line(T50, ut_m2, color=C2, line_width=1)
r3 = pa1.line(T50, ut_m3, color=C3, line_width=1)
r4 = pa1.line(T50, ut_m4, color=C4, line_width=1)
fault_span(pa1)
arrow(pa1, 712, 3.26, 526, 3.26)
text(pa1, 747, 3.26, "Fault time", 16, bg=True)
legend(pa1, [("Module 1", r1), ("Module 2", r2), ("Module 3", r3), ("Module 4", r4)],
       98, 14, (60, 100), 15, 35, 13)

# (a) temperature
pa2 = mk(LW, 150, (LB[0], LB[1], 1, 61), (0, 3500), (5, 35))
style(pa2, [10, 20, 30], [10, 20, 30], True)
ylabel(pa2.yaxis[0], "Temperature (°C)", 13, 18)
rp = pa2.line(temp_x, temp_pack, color=PURPLE, line_width=1.5)
ra = pa2.line(temp_x, temp_amb, color=PINK, line_width=1.5)
legend(pa2, [("Pack surface temperature", rp), ("Ambient temperature", ra)],
       103, 116, (60, 199), 15.5, 35, 48)
xlabel(pa2, "(a)")

# (b) R_DC
pb1 = mk(LW, 104, (LB[0], LB[1], 9, 7), (0, 3500), (1, 10))
style(pb1, [2, 4, 6, 8, 10], [2, 4, 6, 8], False)
ylabel(pb1.yaxis[0], "RDC (mΩ)", 16, 2)
q1 = pb1.line(T50, rdc_m1, color=C1, line_width=1)
q2 = pb1.line(T50, rdc_m2, color=C2, line_width=1)
q3 = pb1.line(T50, rdc_m3, color=C3, line_width=1)
q4 = pb1.line(T50, rdc_m4, color=C4, line_width=1)
fault_span(pb1)
text(pb1, 147, 4.08, "Fault", 15, align="center", bg=True)
text(pb1, 150, 2.24, "time", 15, align="center", bg=True)
arrow(pb1, 287, 3.05, 455, 3.05)
legend(pb1, [("Module 1", q1), ("Module 2", q2), ("Module 3", q3), ("Module 4", q4)],
       98, 272, (60, 357), 16, 37, 15)

# (b) R1-R2 with inset
pb2 = mk(LW, 105, (LB[0], LB[1], 6, 7), (0, 3500), (-1, 5))
style(pb2, [0, 2, 4], [0, 2, 4], False)
ylabel(pb2.yaxis[0], "R¹DC-R²DC (mΩ)", 13, 2)
inset_ranges(pb2, "z", (60, 564, 370, 462), (209, 313, 393.5, 445), (495, 505), (0, 3))
pb2.varea(x=r12_bx, y1=r12_lo, y2=r12_hi, color=GREY)
rb = pb2.line(T50, r12, color=C2, line_width=1)
rc = pb2.line(NO_DATA, NO_DATA, color="#c8c8c8", line_width=2)
pb2.quad(left=[493.9], right=[505.7], bottom=[-1.5], top=[3.05], fill_color="white",
         line_color=None, x_range_name="z", y_range_name="z")
pb2.varea(x=r12_zoom_bx, y1=[0, 0, 0], y2=r12_zoom_hi, color=GREY, x_range_name="z", y_range_name="z")
pb2.line(r12_zoom_x, r12_zoom_y, color=C2, line_width=1, x_range_name="z", y_range_name="z")
pb2.quad(left=[495], right=[505], bottom=[0], top=[3], fill_color=None,
         line_color="#444444", line_width=1, x_range_name="z", y_range_name="z")
pb2.ellipse(x=[501.8], y=[1.8], width=[1.35], height=[2.4], fill_color=None, line_color=BROWN,
            line_width=2, x_range_name="z", y_range_name="z")
pb2.text(x=[494.6, 494.6], y=[0, 2], text=["0", "2"], text_font=value(FONT), text_font_size=value("13px"),
         text_align="right", text_baseline="middle", x_range_name="z", y_range_name="z")
pb2.text(x=[495, 500, 505], y=[-0.08, -0.08, -0.08], text=["495", "500", "505"], text_font=value(FONT),
         text_font_size=value("13px"), text_align="center", text_baseline="top",
         x_range_name="z", y_range_name="z")
pb2.ellipse(x=[490], y=[2.4], width=[105], height=[3.2], fill_color=None, line_color=BROWN, line_width=2)
arrow(pb2, 557, 1.85, 980, 0.78, color=BROWN, w=2, size=8)
arrow(pb2, 1568, 2.05, 2058, 0.38, color=BROWN, w=2, size=8)
text(pb2, 2534, 0.45, "Threshold triggered", 16, align="center", bg=True, border=True)
fault_span(pb2)
text(pb2, 147, 2.98, "Fault", 15, align="center", bg=True)
text(pb2, 150, 1.71, "time", 15, align="center", bg=True)
arrow(pb2, 294, 2.3, 455, 2.3)
legend(pb2, [("Resistance inconsistency", rb), ("Confidence interval", rc)],
       102, 376, (60, 462), 16, 35, 37)

# (b) R4-R1 with inset
pb3 = mk(LW, 101, (LB[0], LB[1], 7, 6), (0, 3500), (-5, 1))
style(pb3, [-4, -2, 0], [-4, -2, 0], False)
ylabel(pb3.yaxis[0], "R⁴DC-R¹DC (mΩ)", 13, 2)
inset_ranges(pb3, "z", (60, 564, 476, 564), (209, 313, 494, 545.5), (495, 505), (-3, 0))
pb3.varea(x=r41_bx, y1=r41_lo, y2=r41_hi, color=GREY)
pb3.line(T50, r41, color=C2, line_width=1)
pb3.quad(left=[493.9], right=[505.7], bottom=[-4.5], top=[0.3], fill_color="white",
         line_color=None, x_range_name="z", y_range_name="z")
pb3.varea(x=r41_zoom_bx, y1=r41_zoom_lo, y2=[0, 0, 0], color=GREY, x_range_name="z", y_range_name="z")
pb3.line(r41_zoom_x, r41_zoom_y, color=C2, line_width=1, x_range_name="z", y_range_name="z")
pb3.quad(left=[495], right=[505], bottom=[-3], top=[0], fill_color=None,
         line_color="#444444", line_width=1, x_range_name="z", y_range_name="z")
pb3.ellipse(x=[501.9], y=[-1.75], width=[2.0], height=[2.35], fill_color=None, line_color=BROWN,
            line_width=2, x_range_name="z", y_range_name="z")
pb3.text(x=[494.6, 494.6], y=[0, -2], text=["0", "-2"], text_font=value(FONT), text_font_size=value("13px"),
         text_align="right", text_baseline="middle", x_range_name="z", y_range_name="z")
pb3.text(x=[495, 500, 505], y=[-3.06, -3.06, -3.06], text=["495", "500", "505"], text_font=value(FONT),
         text_font_size=value("13px"), text_align="center", text_baseline="top",
         x_range_name="z", y_range_name="z")
pb3.ellipse(x=[511], y=[-3.1], width=[90], height=[3.5], fill_color=None, line_color=BROWN, line_width=2)
arrow(pb3, 557, -2.8, 959, -2.8, color=BROWN, w=2, size=8)
arrow(pb3, 1607, -2.99, 2060, -3.9, color=BROWN, w=2, size=8)
text(pb3, 2545, -3.94, "Threshold triggered", 16, align="center", bg=True, border=True)
fault_span(pb3)
text(pb3, 161, -2.96, "Fault", 15, align="center", bg=True)
text(pb3, 161, -4.08, "time", 15, align="center", bg=True)
arrow(pb3, 294, -3.45, 469, -3.45)

# (b) R2-R3
pb4 = mk(LW, 109, (LB[0], LB[1], 10, 10), (0, 3500), (-2, 2))
style(pb4, [-2, -1, 0, 1, 2], [-1, 0, 1], False)
ylabel(pb4.yaxis[0], "R²DC-R³DC (mΩ)", 13, 2)
pb4.varea(x=band_bx, y1=r23_lo, y2=r23_hi, color=GREY)
pb4.line(T50, r23, color=C2, line_width=1)

# (b) R3-R4
pb5 = mk(LW, 160, (LB[0], LB[1], 10, 65), (0, 3500), (-2, 2))
style(pb5, [-2, -1, 0, 1, 2], [-1, 0, 1], True)
ylabel(pb5.yaxis[0], "R³DC-R⁴DC (mΩ)", 13, 2)
pb5.varea(x=band_bx, y1=r34_lo, y2=r34_hi, color=GREY)
pb5.line(T50, r34, color=C2, line_width=1)
xlabel(pb5, "(b)")

# (d) PCC
pd = mk(LW, 160, (LB[0], LB[1], 6, 65), (0, 3500), (0.96, 1.03))
style(pd, [0.96, 0.98, 1.00, 1.02], [0.98, 1.00, 1.02], True, yfmt="%.2f")
ylabel(pd.yaxis[0], "PCC", 17, 1)
rt = pd.line(pcc_thr_x, pcc_thr, color="#c8c8c8", line_width=1.5)
s1 = pd.line(pcc_x, pcc_m1, color=C1, line_width=1.2)
s2 = pd.line(pcc_m2_x, pcc_m2, color=C2, line_width=1.2)
s3 = pd.line(pcc_m3_x, pcc_m3, color=C3, line_width=1.2)
s4 = pd.line(pcc_x, pcc_m4, color=C4, line_width=1.2)
fault_span(pd)
text(pd, 783, 0.9705, "Fault time", 15, bg=True)
arrow(pd, 755, 0.9705, 547, 0.9705)
legend(pd, [("Module 1", s1), ("Module 2", s2), ("Module 3", s3), ("Module 4", s4), ("Threshold", rt)],
       65, 850, (60, 934), 14, 30, 12)
xlabel(pd, "(d)", cap_standoff=0)

# ---------------- right column ----------------
# legend strip above (c)
pcl = mk(RW, 22, (RB[0], RB[1], 0, 0), (0, 1), (0, 1))
pcl.outline_line_color = None
pcl.xaxis.visible = False
pcl.yaxis.visible = False
pcl.xgrid.visible = False
pcl.ygrid.visible = False
k1 = pcl.line(NO_DATA, NO_DATA, color=C1, line_width=1.2)
k2 = pcl.line(NO_DATA, NO_DATA, color=C2, line_width=1.2)
k3 = pcl.line(NO_DATA, NO_DATA, color=C3, line_width=1.2)
k4 = pcl.line(NO_DATA, NO_DATA, color=C4, line_width=1.2)
k5 = pcl.line(NO_DATA, NO_DATA, color=C4, line_width=1.2)
legend(pcl, [("Module 1-2", k1), ("Module 2-3", k2), ("Module 3-4", k3), ("Module 4-1", k4), ("Threshold", k5)],
       799, 3, (792, 22), 12.5, 28, 8, standoff=5)
right_figs = [pcl]

zac = [
    (94, (1, 4), zc1_lo, zc1_hi, zc1_x, zc1_red, zc1_green, zc1_blue_x, zc1_blue, zc1_orange_x, zc1_orange, (1011, 1994, 3.3, 7.4)),
    (96, (3, 4), zc_lo, zc_hi, zc2_x, zc2_red, zc2_green, zc2_blue_x, zc2_blue, zc2_orange_x, zc2_orange, (997, 1952, 3.3, 7.3)),
    (98, (4, 6), zc_lo, zc_hi, zc3_x, zc3_red, zc3_green, zc3_blue_x, zc3_blue, zc3_orange_x, zc3_orange, (1011, 1994, 2.9, 7.5)),
    (98, (5, 5), zc_lo, zc_hi, zc4_x, zc4_red, zc4_green, zc4_blue_x, zc4_blue, zc4_orange_x, zc4_orange, (1011, 1973, 3.3, 7.4)),
    (160, (5, 67), zc_lo, zc_hi, zc5_x, zc5_red, zc5_green, zc5_blue_x, zc5_blue, zc5_orange_x, zc5_orange, (1025, 2008, 2.9, 7.3)),
]
for i, (h, tb, lo, hi, zx, zr, zg, bx, bv, ox, ov, box) in enumerate(zac):
    p = mk(RW, h, (RB[0], RB[1], tb[0], tb[1]), (0, 3500), (-8, 8))
    style(p, [-5, 0, 5], [-5, 0, 5], i == 4, fs=15.5)
    ylabel(p.yaxis[0], "ZAC (mΩ)", 16, 5)
    p.varea(x=zb_x, y1=lo, y2=hi, color=GREY)
    p.line(zx, zr, color=C1, line_width=1.2)
    p.line(bx, bv, color=C2, line_width=1.2)
    p.line(ox, ov, color=C3, line_width=1.2)
    p.line(zx, zg, color=C4, line_width=1.2)
    fault_span(p, 480)
    text(p, 697, -5.0, "Fault time", 14, bg=True)
    arrow(p, 662, -5.0, 509, -5.0)
    p.add_layout(BoxAnnotation(left=box[0], right=box[1], bottom=box[2], top=box[3], fill_color="white",
                               fill_alpha=1.0, line_color="#9a9a9a", line_width=1))
    rich(p, box[0], (box[2] + box[3]) / 2, [("f", 1, 0, 1), ("=%s Hz, " % zc_f[i], 0, 0, 1), ("t", 1, 0, 1),
                                            ("D", 1, -1, 1), ("=%s" % zc_td[i], 0, 0, 1)],
         16, align="left", dx=5, dy=-5)
    if i == 4:
        xlabel(p, "(c)", standoff=4, cap_standoff=0)
    right_figs.append(p)

# (e) residual
pe1 = mk(RW, 105, (RB[0], RB[1], 9, 9), (0, 3500), (-25, 60))
style(pe1, [-20, 0, 20, 40, 60], [-20, 0, 20, 40], False, fs=15.5)
ylabel(pe1.yaxis[0], "(mV)", 18, 0)
ax_res = LinearAxis(ticker=FixedTicker(ticks=[]), axis_line_color=None, major_tick_line_color=None,
                    minor_tick_line_color=None)
ylabel(ax_res, "Residual", 18, 1)
pe1.add_layout(ax_res, "left")
pe1.varea(x=res_band_x, y1=res_band_lo, y2=res_band_hi, color=GREY)
e1 = pe1.line(res_x, res_m1, color=C1, line_width=1)
e2 = pe1.line(res_x, res_m2, color=C2, line_width=1)
e3 = pe1.line(res_x, res_m3, color=C3, line_width=1)
e4 = pe1.line(res_x, res_m4, color=C4, line_width=1)
et = pe1.line(NO_DATA, NO_DATA, color=C4, line_width=1.2)
fault_span(pe1)
text(pe1, 633, 30.9, "Fault time", 17, bg=True)
arrow(pe1, 605, 30.9, 522, 30.9, w=3, size=8)
legend(pe1, [("Module 1", e1), ("Module 2", e2), ("Module 3", e3), ("Module 4", e4), ("Threshold", et)],
       797, 578, (792, 664), 13.5, 31, 11)
right_figs.append(pe1)

# (e) SSR
pe2 = mk(RW, 163, (RB[0], RB[1], 8, 68), (0, 3500), (-10, 150))
style(pe2, [0, 50, 100, 150], [0, 50, 100], True, fs=15.5)
ylabel(pe2.yaxis[0], "SSR", 17, 16)
pe2.line(ssr_thr_x, ssr_thr, color="#c8c8c8", line_width=1.5)
pe2.line(ssr_m1_x, ssr_m1, color=C1, line_width=1.2)
pe2.line(ssr_x, ssr_m2, color=C2, line_width=1.2)
pe2.line(ssr_x, ssr_m3, color=C3, line_width=1.2)
pe2.line(ssr_x, ssr_m4, color=C4, line_width=1.2)
pe2.segment(x0=[505], y0=[-10], x1=[505], y1=[121], line_color=FAULT, line_width=3)
text(pe2, 710, 84.5, "Fault time", 17, bg=True)
arrow(pe2, 696, 84.5, 550, 84.5, w=3, size=8)
pe2.ellipse(x=[252, 454], y=[79.6, 85.5], width=[171, 107], height=[44, 67.7], fill_color=None,
            line_color=ORANGE, line_width=1.5)
arrow(pe2, 247, 125, 247, 101, color=ORANGE, w=2, size=6)
arrow(pe2, 452, 125, 452, 116, color=ORANGE, w=2, size=6)
text(pe2, 10, 135, "Misdiagnosis", 13.5)
xlabel(pe2, "(e)", standoff=6, cap_standoff=1)
right_figs.append(pe2)

# (f) states
pf = mk(RW, 163, (RB[0], RB[1], 9, 68), (0, 3500), (-0.3, 2.83))
style(pf, [0, 1, 2], [1, 2], True, fs=15.5)
pf.yaxis[0].major_label_text_font_size = "17px"
pf.yaxis[0].major_tick_line_color = None
pf.yaxis[0].major_label_overrides = {0: st_labels[0] + "\u00a0" * 5, 1: st_labels[1], 2: st_labels[2]}
g1 = pf.line(st_12_x, st_12, color=C1, line_width=1.5)
g2 = pf.line(st_23_x, st_23, color=C2, line_width=1.5)
g3 = pf.line(st_34_x, st_34, color=C3, line_width=1.5)
g4 = pf.line(st_41_x, st_41, color=C4, line_width=1.5)
pf.segment(x0=[490], y0=[-0.3], x1=[490], y1=[2.22], line_color=FAULT, line_width=3)
text(pf, 812, 0.4, "Fault time", 15, bg=True)
arrow(pf, 799, 0.4, 541, 0.4)
legend(pf, [("Module 1-2", g1), ("Module 2-3", g2), ("Module 3-4", g3), ("Module 4-1", g4)],
       823, 846, (792, 931), 14, 30, 13)
xlabel(pf, "(f)", standoff=4, cap_standoff=0)
right_figs.append(pf)

left = column(pa1, pa2, pb1, pb2, pb3, pb4, pb5, pd, spacing=0)
right = column(*right_figs, spacing=0)
page = row(left, right, spacing=0)
open("out.html", "w").write(file_html(page, INLINE, title="Fault diagnosis results"))
